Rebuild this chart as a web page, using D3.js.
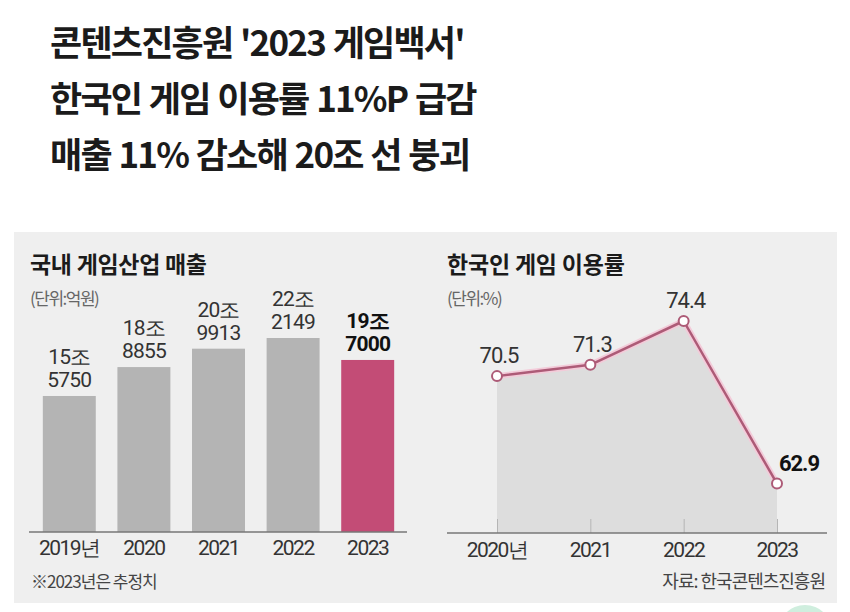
<!DOCTYPE html>
<html><head><meta charset="utf-8">
<script src="https://cdn.jsdelivr.net/npm/d3@7"></script>
<style>
html,body{margin:0;padding:0;background:#fff;}
svg{display:block;}
</style></head>
<body>
<svg id="chart" width="850" height="612"></svg>
<script>
// ---- data ----
const titleLines = ["콘텐츠진흥원 '2023 게임백서'", "한국인 게임 이용률 11%P 급감", "매출 11% 감소해 20조 선 붕괴"];

const salesTitle = "국내 게임산업 매출";
const salesUnit = "(단위:억원)";
const salesYears = ["2019년", "2020", "2021", "2022", "2023"];
const salesValues = [155750, 188855, 209913, 222149, 197000];
const salesLabelTop = ["15조", "18조", "20조", "22조", "19조"];
const salesLabelBottom = ["5750", "8855", "9913", "2149", "7000"];
const salesNote = "※2023년은 추정치";

const rateTitle = "한국인 게임 이용률";
const rateUnit = "(단위:%)";
const rateYears = ["2020년", "2021", "2022", "2023"];
const rateValues = [70.5, 71.3, 74.4, 62.9];
const rateSource = "자료: 한국콘텐츠진흥원";

// ---- drawing ----
const svg = d3.select("#chart");
const KR = "'Noto Sans CJK KR', 'Noto Sans', sans-serif";
const NUM = "Roboto, 'Noto Sans', sans-serif";

// headline
svg.selectAll("text.headline").data(titleLines).join("text")
  .attr("class", "headline")
  .attr("x", 50).attr("y", (d, i) => 40 + i * 56)
  .attr("dominant-baseline", "central")
  .attr("font-family", KR).attr("font-weight", 700)
  .attr("font-size", 35).attr("letter-spacing", -1.8)
  .attr("word-spacing", 1.5)
  .attr("fill", "#1b1b1b")
  .text(d => d);

// panel background
svg.append("rect").attr("x", 14).attr("y", 232).attr("width", 823).attr("height", 371).attr("fill", "#efefef");

// decorative watermark
svg.append("circle").attr("cx", 805).attr("cy", 632).attr("r", 27).attr("fill", "#cfeede");

// ---------- left: bar chart ----------
const xb = d3.scaleBand().domain(salesYears).range([32, 405]).paddingInner(0.29).paddingOuter(0.145);
const yb = d3.scaleLinear().domain([0, 222149]).range([532, 338]);
const left = svg.append("g");

left.append("text").attr("x", 30).attr("y", 263).attr("dominant-baseline", "central")
  .attr("font-family", KR).attr("font-weight", 700).attr("font-size", 23).attr("letter-spacing", -0.3)
  .attr("fill", "#1b1b1b").text(salesTitle);
left.append("text").attr("x", 30).attr("y", 297).attr("dominant-baseline", "central")
  .attr("font-family", KR).attr("font-size", 17).attr("letter-spacing", -1.5)
  .attr("fill", "#666").text(salesUnit);

left.selectAll("rect.bar").data(salesValues).join("rect").attr("class", "bar")
  .attr("x", (d, i) => xb(salesYears[i]))
  .attr("width", xb.bandwidth())
  .attr("y", d => yb(d))
  .attr("height", d => yb(0) - yb(d))
  .attr("fill", (d, i) => i === salesValues.length - 1 ? "#c34c76" : "#b4b4b4");

const lastB = salesValues.length - 1;
left.selectAll("text.lt").data(salesValues).join("text").attr("class", "lt")
  .attr("x", (d, i) => xb(salesYears[i]) + xb.bandwidth() / 2)
  .attr("y", d => yb(d) - 32)
  .attr("text-anchor", "middle")
  .attr("font-family", NUM).attr("font-size", 21).attr("letter-spacing", -0.8)
  .attr("font-weight", (d, i) => i === lastB ? 700 : 400)
  .attr("fill", (d, i) => i === lastB ? "#111" : "#333")
  .text((d, i) => salesLabelTop[i]);
left.selectAll("text.lb").data(salesValues).join("text").attr("class", "lb")
  .attr("x", (d, i) => xb(salesYears[i]) + xb.bandwidth() / 2)
  .attr("y", d => yb(d) - 9)
  .attr("text-anchor", "middle")
  .attr("font-family", NUM).attr("font-size", 21).attr("letter-spacing", -0.8)
  .attr("font-weight", (d, i) => i === lastB ? 700 : 400)
  .attr("fill", (d, i) => i === lastB ? "#111" : "#333")
  .text((d, i) => salesLabelBottom[i]);

const axB = left.append("g").attr("transform", "translate(0,532)")
  .call(d3.axisBottom(xb).tickSize(0).tickPadding(8));
axB.select(".domain").remove();
axB.selectAll("text").attr("font-family", NUM).attr("font-size", 21).attr("letter-spacing", -1.5).attr("fill", "#333");
left.append("line").attr("x1", 29).attr("x2", 407).attr("y1", 532).attr("y2", 532).attr("stroke", "#777").attr("stroke-width", 1.5);

left.append("text").attr("x", 31).attr("y", 580).attr("dominant-baseline", "central")
  .attr("font-family", KR).attr("font-size", 17).attr("letter-spacing", -1)
  .attr("fill", "#444").text(salesNote);

// ---------- right: line chart ----------
const xl = d3.scalePoint().domain(rateYears).range([497, 777]);
const yl = d3.scaleLinear().domain([59.4, 74.4]).range([533, 321]);
const right = svg.append("g");

right.append("text").attr("x", 447).attr("y", 263).attr("dominant-baseline", "central")
  .attr("font-family", KR).attr("font-weight", 700).attr("font-size", 23).attr("letter-spacing", -0.2)
  .attr("fill", "#1b1b1b").text(rateTitle);
right.append("text").attr("x", 447).attr("y", 297).attr("dominant-baseline", "central")
  .attr("font-family", KR).attr("font-size", 17).attr("letter-spacing", -1.5)
  .attr("fill", "#666").text(rateUnit);

right.append("path").datum(rateValues)
  .attr("d", d3.area().x((d, i) => xl(rateYears[i])).y0(yl(59.4)).y1(d => yl(d)))
  .attr("fill", "#dddddd");

const axL = right.append("g").attr("transform", "translate(0,533)")
  .call(d3.axisTop(xl).tickSize(14).tickFormat(""));
axL.select(".domain").remove();
axL.selectAll("line").attr("stroke", "#b5b5b5").attr("stroke-width", 1);
right.append("line").attr("x1", 447).attr("x2", 827).attr("y1", 533).attr("y2", 533).attr("stroke", "#777").attr("stroke-width", 1.5);

right.selectAll("text.xl").data(rateYears).join("text").attr("class", "xl")
  .attr("x", d => xl(d)).attr("y", 557)
  .attr("text-anchor", "middle")
  .attr("font-family", NUM).attr("font-size", 21).attr("letter-spacing", -1.5).attr("fill", "#333")
  .text(d => d);

right.append("path").datum(rateValues)
  .attr("d", d3.line().x((d, i) => xl(rateYears[i])).y(d => yl(d)))
  .attr("fill", "none").attr("stroke", "#f3cbd9").attr("stroke-width", 6).attr("stroke-linejoin", "round");
right.append("path").datum(rateValues)
  .attr("d", d3.line().x((d, i) => xl(rateYears[i])).y(d => yl(d)))
  .attr("fill", "none").attr("stroke", "#ad5b77").attr("stroke-width", 2.5).attr("stroke-linejoin", "round");

right.selectAll("circle.pt").data(rateValues).join("circle").attr("class", "pt")
  .attr("cx", (d, i) => xl(rateYears[i])).attr("cy", d => yl(d))
  .attr("r", 5).attr("fill", "#fff").attr("stroke", "#ad5b77").attr("stroke-width", 2);

const lastR = rateValues.length - 1;
right.selectAll("text.vl").data(rateValues).join("text").attr("class", "vl")
  .attr("x", (d, i) => xl(rateYears[i]) + (i === lastR ? 22 : 2))
  .attr("y", (d, i) => yl(d) - 13)
  .attr("text-anchor", "middle")
  .attr("font-family", NUM).attr("font-size", 22).attr("letter-spacing", -1)
  .attr("font-weight", (d, i) => i === lastR ? 700 : 400)
  .attr("fill", (d, i) => i === lastR ? "#111" : "#333")
  .text(d => d.toFixed(1));

right.append("text").attr("x", 825).attr("y", 580).attr("dominant-baseline", "central")
  .attr("text-anchor", "end")
  .attr("font-family", KR).attr("font-size", 18).attr("letter-spacing", -1)
  .attr("fill", "#444").text(rateSource);
</script>
</body></html>
